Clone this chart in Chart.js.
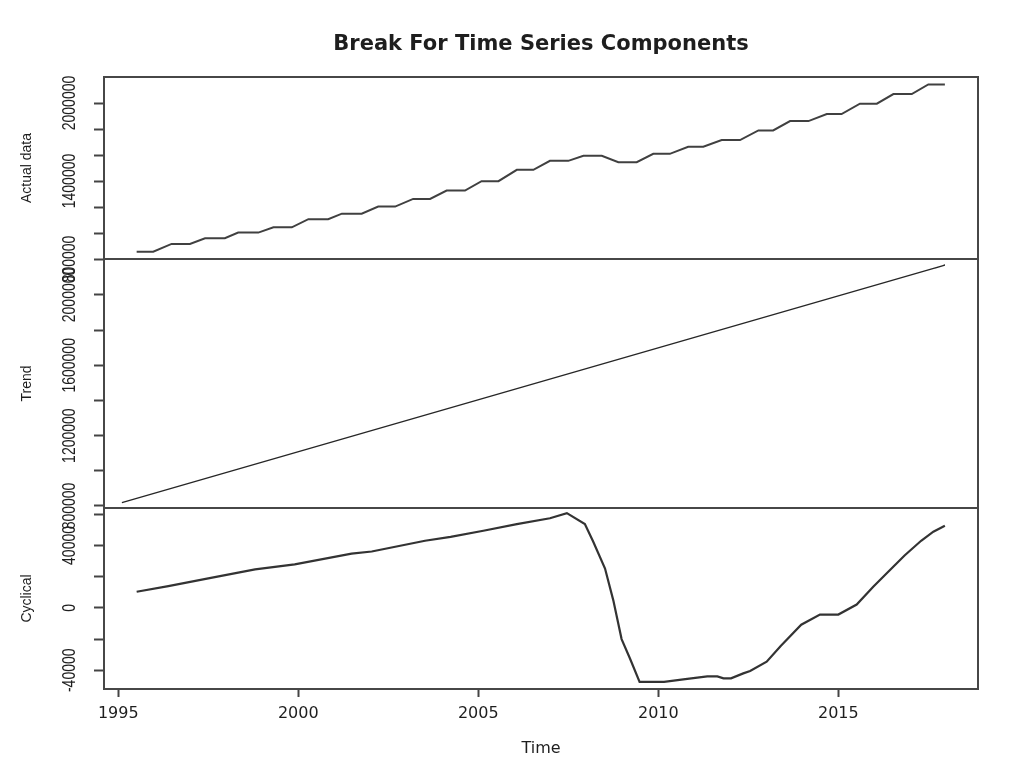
<!DOCTYPE html>
<html>
<head>
<meta charset="utf-8">
<title>Break For Time Series Components</title>
<script src="https://cdn.jsdelivr.net/npm/chart.js@4.4.1/dist/chart.umd.min.js"></script>
<style>
  html, body { margin: 0; padding: 0; background: #fff; }
  canvas { display: block; }
</style>
</head>
<body>
<canvas id="grafico" width="1014" height="759"></canvas>
<script>
// vertices (time in decimal years)
const actualTime = [1995.51, 1995.97, 1996.48, 1996.99, 1997.41, 1997.96, 1998.33, 1998.89,
    1999.31, 1999.82, 2000.28, 2000.83, 2001.21, 2001.76, 2002.22, 2002.69, 2003.19, 2003.66,
    2004.12, 2004.63, 2005.09, 2005.56, 2006.07, 2006.53, 2006.99, 2007.50, 2007.92, 2008.43,
    2008.89, 2009.40, 2009.86, 2010.32, 2010.83, 2011.25, 2011.76, 2012.27, 2012.78, 2013.19,
    2013.66, 2014.17, 2014.68, 2015.09, 2015.60, 2016.07, 2016.53, 2017.04, 2017.50, 2017.96];
const actualValues = [856000, 856000, 916000, 916000, 960000, 960000, 1003000, 1003000,
    1044000, 1044000, 1106000, 1106000, 1149000, 1149000, 1203000, 1203000, 1262000, 1262000,
    1326000, 1326000, 1399000, 1399000, 1486000, 1486000, 1555000, 1555000, 1594000, 1594000,
    1545000, 1545000, 1609000, 1609000, 1663000, 1663000, 1715000, 1715000, 1789000, 1789000,
    1861000, 1861000, 1915000, 1915000, 1995000, 1995000, 2069000, 2069000, 2143000, 2143000];

const trendTime = [1995.10, 2017.96, 2017.68];
const trendValues = [819000, 2170000, 2152000];

const cycTime = [1995.51, 1996.39, 1997.50, 1998.80, 1999.90, 2001.48, 2002.04, 2003.52,
    2004.23, 2005.14, 2006.07, 2006.99, 2007.46, 2007.96, 2008.19, 2008.52, 2008.75, 2008.98,
    2009.21, 2009.48, 2010.16, 2010.75, 2011.36, 2011.64, 2011.81, 2012.02, 2012.36, 2012.55,
    2013.01, 2013.40, 2013.97, 2014.49, 2015.00, 2015.51, 2015.97, 2016.38, 2016.84, 2017.30,
    2017.64, 2017.96];
const cycValues = [10300, 13900, 18900, 24700, 27900, 34800, 36100, 43000,
    45500, 49400, 53700, 57400, 60700, 53700, 42500, 25200, 4800, -20000,
    -32300, -47400, -47400, -45700, -43900, -43900, -45200, -45200, -42000, -40500,
    -34500, -24500, -10800, -4300, -4300, 2100, 13500, 23000, 33600, 43000,
    48800, 52600];

const timeTicks = [1995, 2000, 2005, 2010, 2015];
const actualTicks = [800000, 1000000, 1200000, 1400000, 1600000, 1800000, 2000000];
const actualLabels = [800000, 1400000, 2000000];
const trendTicks = [800000, 1000000, 1200000, 1400000, 1600000, 1800000, 2000000];
const trendLabels = [800000, 1200000, 1600000, 2000000];
const cycTicks = [-40000, -20000, 0, 20000, 40000, 60000];
const cycLabels = [-40000, 0, 40000];

const titulo = 'Break For Time Series Components';
const rotulosPainel = { yActual: actualLabels, yTrend: trendLabels, yCyc: cycLabels };

const corTexto = '#1e1e1e';
const corLinha = '#404040';

function pontos(t, v) {
    return t.map((x, i) => ({ x: x, y: v[i] }));
}

function eixoY(nome, min, max, ticks, peso) {
    return {
        type: 'linear',
        position: 'left',
        stack: 'paineis',
        stackWeight: peso,
        min: min,
        max: max,
        afterBuildTicks: s => { s.ticks = ticks.map(v => ({ value: v })); },
        afterFit: s => { s.width = 104; },
        ticks: { display: false },
        grid: { drawOnChartArea: false, tickLength: 10, tickColor: '#444', tickWidth: 2 },
        border: { display: false },
        title: {
            display: true,
            text: nome,
            color: corTexto,
            font: { family: 'Liberation Sans', size: 14 },
            padding: { top: 19, bottom: 0 }
        }
    };
}

// main title, rotated tick labels (R style, picture is stretched sideways) and the panel boxes
const molduraR = {
    id: 'molduraR',
    afterDraw(chart) {
        const ctx = chart.ctx;
        const area = chart.chartArea;
        ctx.save();
        ctx.fillStyle = corTexto;
        ctx.textAlign = 'center';
        ctx.textBaseline = 'middle';
        ctx.font = 'bold 21px "DejaVu Sans"';
        ctx.fillText(titulo, (area.left + area.right) / 2, 45);

        ctx.font = '14px "Liberation Sans"';
        Object.keys(rotulosPainel).forEach(id => {
            const scale = chart.scales[id];
            rotulosPainel[id].forEach(v => {
                ctx.save();
                ctx.translate(scale.right - 34, scale.getPixelForValue(v));
                ctx.rotate(-Math.PI / 2);
                ctx.scale(1, 1.3);
                ctx.fillText(String(v), 0, 0);
                ctx.restore();
            });
        });
        ctx.strokeStyle = '#474747';
        ctx.lineWidth = 2;
        ['yActual', 'yTrend', 'yCyc'].forEach(id => {
            const s = chart.scales[id];
            ctx.strokeRect(area.left, s.top, area.right - area.left, s.bottom - s.top);
        });
        ctx.restore();
    }
};

const ctx = document.getElementById('grafico').getContext('2d');
new Chart(ctx, {
    type: 'line',
    data: {
        datasets: [
            { label: 'Actual data', data: pontos(actualTime, actualValues), yAxisID: 'yActual',
              borderColor: corLinha, borderWidth: 2, pointRadius: 0, tension: 0 },
            { label: 'Trend', data: pontos(trendTime, trendValues), yAxisID: 'yTrend',
              borderColor: '#262626', borderWidth: 1.3, pointRadius: 0, tension: 0 },
            { label: 'Cyclical', data: pontos(cycTime, cycValues), yAxisID: 'yCyc',
              borderColor: '#333', borderWidth: 2.2, pointRadius: 0, tension: 0 }
        ]
    },
    options: {
        responsive: false,
        animation: false,
        devicePixelRatio: 1,
        layout: { padding: { left: 0, right: 36, top: 77, bottom: 0 } },
        plugins: {
            legend: { display: false },
            tooltip: { enabled: false },
            title: { display: false }
        },
        scales: {
            x: {
                type: 'linear',
                position: 'bottom',
                min: 1994.603,
                max: 2018.88,
                afterBuildTicks: s => { s.ticks = timeTicks.map(v => ({ value: v })); },
                afterFit: s => { s.height = 70; },
                ticks: {
                    color: corTexto,
                    font: { family: 'DejaVu Sans', size: 16 },
                    padding: 7,
                    maxRotation: 0,
                    callback: v => String(v)
                },
                grid: { drawOnChartArea: false, tickLength: 8, tickColor: '#444', tickWidth: 2 },
                border: { display: false },
                title: {
                    display: true,
                    text: 'Time',
                    color: corTexto,
                    font: { family: 'DejaVu Sans', size: 16 },
                    padding: { top: 0, bottom: 1 }
                }
            },
            yCyc: eixoY('Cyclical', -52000, 64000, cycTicks, 181),
            yTrend: eixoY('Trend', 788600, 2204600, trendTicks, 249),
            yActual: eixoY('Actual data', 800000, 2200000, actualTicks, 182)
        }
    },
    plugins: [molduraR]
});
</script>
</body>
</html>
